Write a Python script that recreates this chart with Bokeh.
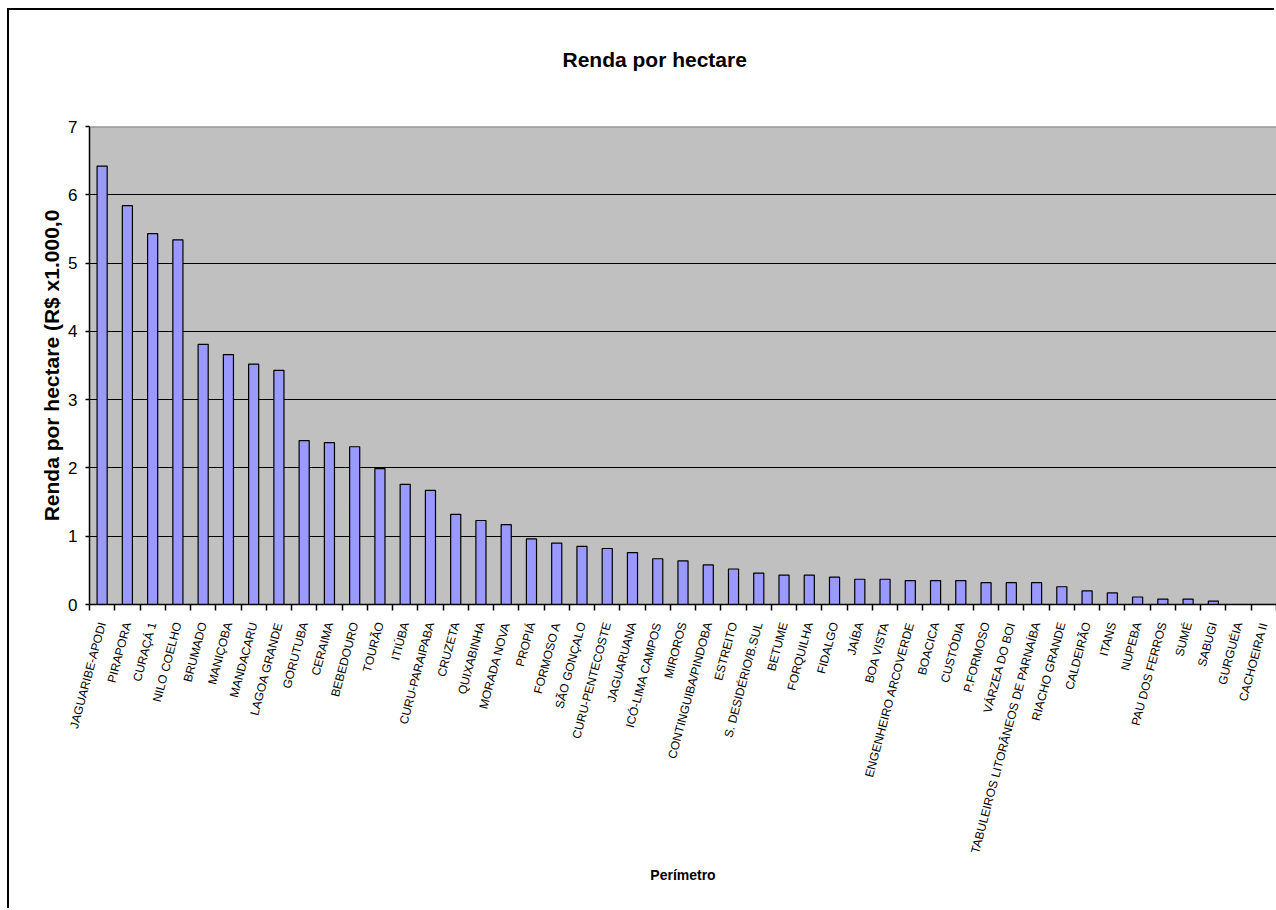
import math

from bokeh.embed import file_html
from bokeh.models import ColumnDataSource, FixedTicker, Range1d, Span, Title
from bokeh.plotting import figure
from bokeh.resources import INLINE

# Irrigation perimeters, ordered by income per hectare (R$ x1.000,00)
perimetros = [
    "JAGUARIBE-APODI", "PIRAPORA", "CURAÇÁ 1", "NILO COELHO", "BRUMADO",
    "MANIÇOBA", "MANDACARU", "LAGOA GRANDE", "GORUTUBA", "CERAIMA",
    "BEBEDOURO", "TOURÃO", "ITIÚBA", "CURU-PARAIPABA", "CRUZETA",
    "QUIXABINHA", "MORADA NOVA", "PROPIÁ", "FORMOSO A", "SÃO GONÇALO",
    "CURU-PENTECOSTE", "JAGUARUANA", "ICÓ-LIMA CAMPOS", "MIROROS",
    "CONTINGUIBA/PINDOBA", "ESTREITO", "S. DESIDÉRIO/B.SUL", "BETUME",
    "FORQUILHA", "FIDALGO", "JAÍBA", "BOA VISTA", "ENGENHEIRO ARCOVERDE",
    "BOACICA", "CUSTÓDIA", "P.FORMOSO", "VÁRZEA DO BOI",
    "TABULEIROS LITORÂNEOS DE PARNAÍBA", "RIACHO GRANDE", "CALDEIRÃO",
    "ITANS", "NUPEBA", "PAU DOS FERROS", "SUMÉ", "SABUGI", "GURGUÉIA",
    "CACHOEIRA II",
]
renda = [
    6.42, 5.84, 5.43, 5.34, 3.81,
    3.66, 3.52, 3.43, 2.40, 2.37,
    2.31, 1.99, 1.76, 1.67, 1.32,
    1.23, 1.17, 0.96, 0.90, 0.85,
    0.82, 0.76, 0.67, 0.64,
    0.58, 0.52, 0.46, 0.43,
    0.43, 0.40, 0.37, 0.37, 0.35,
    0.35, 0.35, 0.32, 0.32,
    0.32, 0.26, 0.20,
    0.17, 0.11, 0.08, 0.08, 0.05, 0.0,
    0.0,
]
y_ticks = [0, 1, 2, 3, 4, 5, 6, 7]
grid_levels = [1, 2, 3, 4, 5, 6]

FONT = "Liberation Sans"
n = len(perimetros)
idx = list(range(n))
source = ColumnDataSource(data=dict(x=idx, renda=renda, nome=perimetros))

p = figure(
    width=1267, height=900, title=None,
    x_range=Range1d(-0.5, n - 0.5), y_range=Range1d(0, 7),
    output_backend="svg", toolbar_location=None,
    min_border_left=80, min_border_right=0,
    min_border_top=116, min_border_bottom=306,
    background_fill_color="#C0C0C0", border_fill_color="white",
    outline_line_color=None,
)
# chart area frame: offset from the page corner, left and top edges drawn as a shadow
p.margin = (10, 0, 0, 9)
p.styles = {"box-shadow": "-2px -2px 0px 0px black"}

# blank spacer row between the plot area and the title
p.add_layout(Title(text=" ", text_font=FONT, text_font_size="21px", standoff=26), "above")
p.add_layout(Title(
    text="Renda por hectare", align="left", offset=473, standoff=10,
    text_font=FONT, text_font_style="bold", text_font_size="21px", text_color="black",
), "above")

p.vbar(x="x", top="renda", width=0.4, source=source,
       fill_color="#9999FF", line_color="black", line_width=1.2)

# top edge of the plot area
p.add_layout(Span(location=7, dimension="width", line_color="#808080", line_width=2))

# category axis: labels at bar centres, tick marks between categories
xa = p.xaxis[0]
xa.ticker = FixedTicker(ticks=idx, minor_ticks=[i - 0.5 for i in range(n + 1)])
xa.major_label_overrides = {i: name for i, name in zip(idx, perimetros)}
xa.major_label_orientation = math.radians(75)
xa.major_label_text_font = FONT
xa.major_label_text_font_size = "12px"
xa.major_label_text_color = "black"
xa.major_label_standoff = 12
xa.major_tick_out = 0
xa.major_tick_in = 0
xa.minor_tick_out = 6
xa.minor_tick_in = 0
xa.minor_tick_line_color = "black"
xa.minor_tick_line_width = 1.5
xa.axis_line_color = "black"
xa.axis_line_width = 1.5
xa.axis_label = "Perímetro"
xa.axis_label_text_font = FONT
xa.axis_label_text_font_style = "bold"
xa.axis_label_text_font_size = "14px"
xa.axis_label_text_color = "black"
xa.axis_label_standoff = 7

ya = p.yaxis[0]
ya.ticker = FixedTicker(ticks=y_ticks)
ya.major_label_text_font = FONT
ya.major_label_text_font_size = "17px"
ya.major_label_text_color = "black"
ya.major_label_standoff = 8
ya.major_tick_out = 4
ya.major_tick_in = 0
ya.major_tick_line_color = "black"
ya.major_tick_line_width = 1.5
ya.minor_tick_out = 0
ya.minor_tick_in = 0
ya.axis_line_color = "black"
ya.axis_line_width = 1.5
ya.axis_label = "Renda por hectare (R$ x1.000,0"
ya.axis_label_text_font = FONT
ya.axis_label_text_font_style = "bold"
ya.axis_label_text_font_size = "21px"
ya.axis_label_text_color = "black"
ya.axis_label_standoff = 2

p.xgrid.grid_line_color = None
p.ygrid.ticker = FixedTicker(ticks=grid_levels)
p.ygrid.grid_line_color = "black"
p.ygrid.grid_line_width = 1

open("out.html", "w").write(file_html(p, INLINE))
